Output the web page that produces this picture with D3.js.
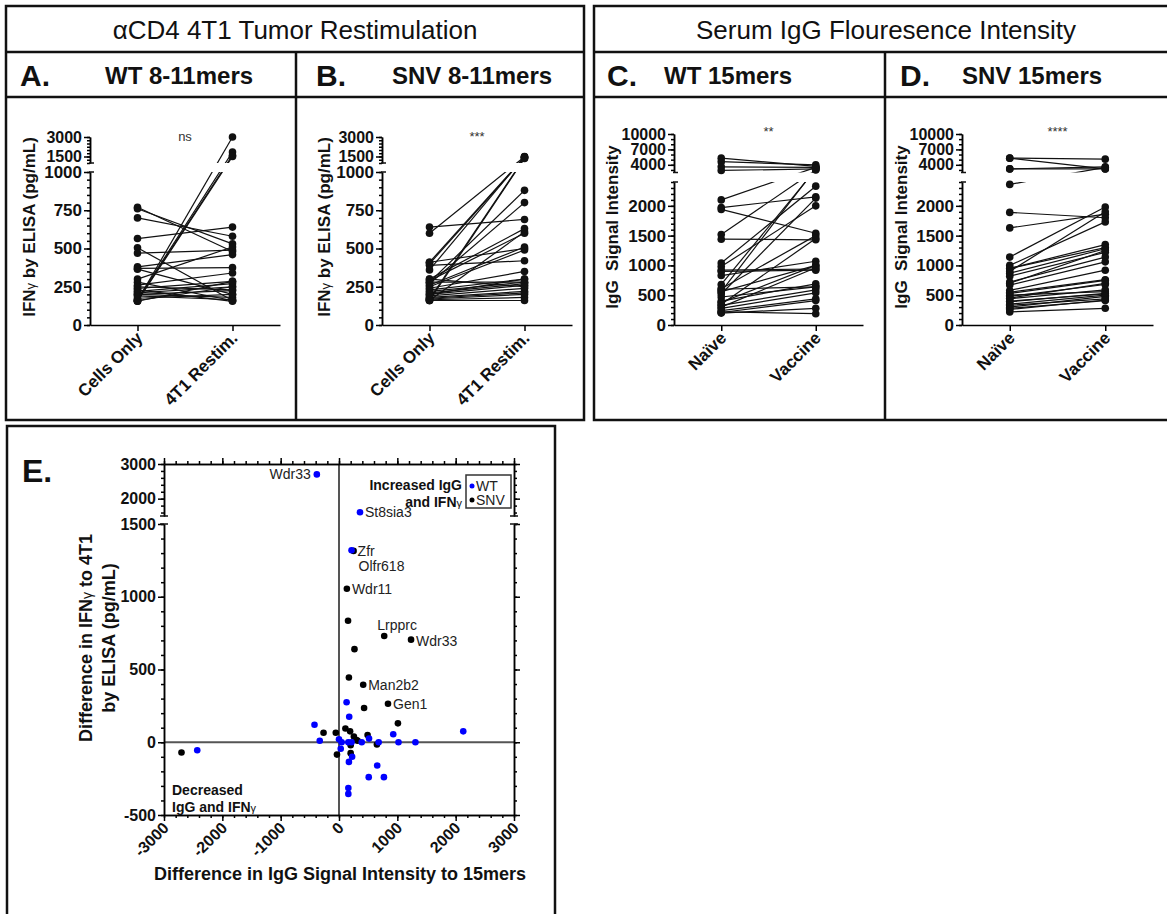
<!DOCTYPE html>
<html>
<head>
<meta charset="utf-8">
<script src="https://cdn.jsdelivr.net/npm/d3@7"></script>
<style>
  body { margin: 0; background: #fff; }
  svg { display: block; font-family: "Liberation Sans", Arial, sans-serif; }
</style>
</head>
<body>
<script>
"use strict";
// ---- data ----
// A. WT 8-11mers  (IFNg pg/mL, paired)
const restimCats = ["Cells Only", "4T1 Restim."]
const wt8Cells  = [160,165,160,155,770,760,700,565,505,470,380,370,365,300,280,260,240,220,210,200,200,190,160,175,230,250,155]
const wt8Restim = [3000,1850,1600,1500,480,530,580,640,160,490,460,375,200,510,160,340,285,270,250,225,180,165,250,200,155,230,285]
// B. SNV 8-11mers
const snv8Cells  = [640,600,410,400,390,360,300,290,280,270,260,250,240,230,220,210,200,190,180,175,170,165,160,160,170,280,300,200,160,410]
const snv8Restim = [690,1480,1450,1420,420,1500,630,600,880,800,510,490,350,300,280,270,260,240,220,210,200,180,160,610,1400,280,250,300,1350,500]
// C. WT 15mers (IgG signal intensity, paired)
const vaccCats = ["Naïve", "Vaccine"]
const wt15Naive = [5300,4600,3600,2900,2100,1970,1940,1520,1440,1040,980,920,900,830,680,610,560,520,470,400,330,280,240,210,200,220,560,380,300,350,600]
const wt15Vacc  = [3700,4000,3500,3200,3500,2150,1540,3000,1430,2330,2000,940,920,1070,3100,1500,1000,2130,640,690,590,540,440,410,280,190,3300,1000,960,1450,640]
// D. SNV 15mers
const snv15Naive = [5300,5300,3200,3200,2360,1890,1630,1140,1000,950,870,820,720,670,580,530,480,440,390,330,280,220,950,700,500,400,350,300,260,450,550,900]
const snv15Vacc  = [5100,3200,3600,3200,3500,1800,1860,1980,1730,1350,1280,1220,1140,1060,920,750,680,590,530,440,410,280,1300,1250,560,520,500,480,420,700,760,1900]
// E. difference in IgG (x) vs difference in IFNg (y)
const wtDiffIgG = [-380,360,215,130,175,-420,-330,0,45,160,215,390,515,680,930,1020,1310,2130,30,225,170,655,510,770,160,160,-2430]
const wtDiffIfn = [2700,1610,1320,275,175,120,10,20,0,0,0,0,25,0,55,0,0,75,-45,-100,-135,-160,-240,-240,-315,-355,-55]
const snvDiffIgG = [250,135,155,775,1235,265,170,415,430,840,1010,-265,-55,110,190,255,300,320,490,650,200,-35,200,-2700]
const snvDiffIfn = [1315,1055,835,730,705,640,445,395,235,265,130,65,65,95,75,40,15,10,50,-15,-20,-85,-75,-70]
const wtLabels  = [{i: 0, name: "Wdr33"}, {i: 1, name: "St8sia3"}, {i: 2, name: "Olfr618"}]
const snvLabels = [{i: 0, name: "Zfr"}, {i: 1, name: "Wdr11"}, {i: 3, name: "Lrpprc"}, {i: 4, name: "Wdr33"}, {i: 7, name: "Man2b2"}, {i: 9, name: "Gen1"}]
const eXTicks = [-3000,-2000,-1000,0,1000,2000,3000]

;(function(){
    const svg = d3.select("body").append("svg")
        .attr("width", 1167)
        .attr("height", 914)
    const FONT = '"Liberation Sans", Arial, sans-serif'
    // plain integers with an ascii hyphen for negatives
    const fmt = v => String(v)

    // ---- boxes ----
    const frame = svg.append("g").attr("fill", "none").attr("stroke", "#111").attr("stroke-width", 2.5)
    frame.append("rect").attr("x", 6).attr("y", 6).attr("width", 578).attr("height", 414)
    frame.append("line").attr("x1", 6).attr("x2", 584).attr("y1", 52).attr("y2", 52)
    frame.append("line").attr("x1", 6).attr("x2", 584).attr("y1", 97).attr("y2", 97)
    frame.append("line").attr("x1", 296).attr("x2", 296).attr("y1", 52).attr("y2", 420)
    frame.append("rect").attr("x", 594).attr("y", 6).attr("width", 620).attr("height", 414)
    frame.append("line").attr("x1", 594).attr("x2", 1167).attr("y1", 52).attr("y2", 52)
    frame.append("line").attr("x1", 594).attr("x2", 1167).attr("y1", 97).attr("y2", 97)
    frame.append("line").attr("x1", 885).attr("x2", 885).attr("y1", 52).attr("y2", 420)
    frame.append("rect").attr("x", 7).attr("y", 426).attr("width", 548).attr("height", 520)

    // ---- headers ----
    function txt(x, y, s, size, weight, anchor) {
        return svg.append("text").attr("x", x).attr("y", y)
            .attr("font-size", size).attr("font-weight", weight || "normal")
            .attr("text-anchor", anchor || "start").attr("fill", "#111").text(s)
    }
    txt(295, 39, "αCD4 4T1 Tumor Restimulation", 26, "normal", "middle")
    txt(886, 39, "Serum IgG Flouresence Intensity", 26, "normal", "middle")
    txt(20, 86, "A.", 30, "bold")
    txt(105, 84, "WT 8-11mers", 24, "bold")
    txt(316, 86, "B.", 30, "bold")
    txt(392, 84, "SNV 8-11mers", 24, "bold")
    txt(607, 86, "C.", 30, "bold")
    txt(664, 84, "WT 15mers", 24, "bold")
    txt(900, 86, "D.", 30, "bold")
    txt(962, 84, "SNV 15mers", 24, "bold")
    txt(22, 482, "E.", 32, "bold")

    function styleAxis(a, size) {
        a.attr("font-size", size).attr("font-family", FONT).attr("font-weight", "bold")
            .attr("stroke-width", 1.5)
        a.selectAll("text").attr("fill", "#111")
    }

    // ---- paired before/after panels ----
    function pairedPanel(o) {
        const g = svg.append("g")
        const x = d3.scalePoint().domain(o.cats).range([o.x0, o.x1]).padding(0.5)
        const yLo = d3.scaleLinear().domain(o.loDomain).range([325, o.loTop])
        const yHi = d3.scaleLinear().domain(o.hiDomain).range([o.hiBottom, o.hiTop])
        const yPos = v => v <= o.loDomain[1] ? yLo(v) : yHi(v)

        // y axis, lower part
        g.append("g").attr("transform", `translate(${o.x0},0)`)
            .call(d3.axisLeft(yLo).tickValues(o.loMinor).tickSize(3).tickSizeOuter(0).tickFormat(""))
            .call(a => styleAxis(a, o.tickFont))
        g.append("g").attr("transform", `translate(${o.x0},0)`)
            .call(d3.axisLeft(yLo).tickValues(o.loTicks).tickSize(6).tickSizeOuter(0).tickPadding(2).tickFormat(fmt))
            .call(a => styleAxis(a, o.tickFont))
        // y axis, upper part
        g.append("g").attr("transform", `translate(${o.x0},0)`)
            .call(d3.axisLeft(yHi).tickValues(o.hiMinor).tickSize(3).tickSizeOuter(0).tickFormat(""))
            .call(a => styleAxis(a, o.hiFont))
        g.append("g").attr("transform", `translate(${o.x0},0)`)
            .call(d3.axisLeft(yHi).tickValues(o.hiTicks).tickSize(6).tickSizeOuter(0).tickPadding(2).tickFormat(fmt))
            .call(a => styleAxis(a, o.hiFont))
        // break marks
        ;[o.loTop, o.hiBottom].forEach(yy => {
            g.append("line").attr("x1", o.x0 - 1).attr("x2", o.x0 + 4).attr("y1", yy).attr("y2", yy)
                .attr("stroke", "#111").attr("stroke-width", 1.5)
        })

        // x axis
        g.append("g").attr("transform", "translate(0,325)")
            .call(d3.axisBottom(x).tickSize(6).tickSizeOuter(0))
            .call(a => styleAxis(a, 17))
            .call(a => a.selectAll("text")
                .attr("x", -6).attr("y", 8).attr("dy", "0.35em")
                .attr("text-anchor", "end")
                .attr("transform", "rotate(-45)"))

        // y label
        const yl = g.append("text").attr("transform", `translate(${o.labelX},227) rotate(-90)`)
            .attr("text-anchor", "middle").attr("font-size", 17).attr("font-weight", "bold").attr("fill", "#111")
            .attr("xml:space", "preserve")
        o.yLabel.forEach(p => yl.append("tspan").text(p[0]).attr("font-size", p[1] || 17).attr("font-weight", p[2] || "bold"))

        // significance
        g.append("text").attr("x", (x(o.cats[0]) + x(o.cats[1])) / 2).attr("y", o.starY)
            .attr("text-anchor", "middle").attr("font-size", 13).attr("fill", "#333").text(o.star)

        // clip regions so that lines break at the axis gap
        const idLo = "clipLo" + o.id, idHi = "clipHi" + o.id
        const defs = g.append("defs")
        defs.append("clipPath").attr("id", idLo).append("rect")
            .attr("x", o.x0).attr("y", o.loTop).attr("width", o.x1 - o.x0).attr("height", 340 - o.loTop)
        defs.append("clipPath").attr("id", idHi).append("rect")
            .attr("x", o.x0).attr("y", 100).attr("width", o.x1 - o.x0).attr("height", o.hiBottom - 100)

        const pairs = o.before.map((b, i) => [b, o.after[i]])
        const cx0 = x(o.cats[0]), cx1 = x(o.cats[1])
        ;[idLo, idHi].forEach(id => {
            g.append("g").attr("clip-path", `url(#${id})`)
                .selectAll("line").data(pairs).enter().append("line")
                .attr("x1", cx0).attr("x2", cx1)
                .attr("y1", d => yPos(d[0])).attr("y2", d => yPos(d[1]))
                .attr("stroke", "#111").attr("stroke-width", 1.2)
        })
        g.append("g").selectAll("circle").data(o.before).enter().append("circle")
            .attr("cx", cx0).attr("cy", d => yPos(d)).attr("r", 3.8).attr("fill", "#111")
        g.append("g").selectAll("circle").data(o.after).enter().append("circle")
            .attr("cx", cx1).attr("cy", d => yPos(d)).attr("r", 3.8).attr("fill", "#111")
    }

    const ifnLabel = [["IFN"], ["γ", 13, "normal"], [" by ELISA (pg/mL)"]]
    const igLabel = [["IgG  Signal Intensity"]]
    const ifnAxis = {
        loDomain: [0, 1000], loTop: 172, hiDomain: [1000, 3000], hiBottom: 163, hiTop: 137,
        loTicks: [0, 250, 500, 750, 1000], loMinor: d3.range(0, 1001, 50),
        hiTicks: [1500, 3000], hiMinor: d3.range(1000, 3001, 250), starY: 141, tickFont: 17, hiFont: 16
    }
    const igAxis = {
        loDomain: [0, 2400], loTop: 182, hiDomain: [2500, 10000], hiBottom: 172.5, hiTop: 134,
        loTicks: [0, 500, 1000, 1500, 2000], loMinor: d3.range(0, 2401, 100),
        hiTicks: [4000, 7000, 10000], hiMinor: d3.range(3000, 10001, 1000), starY: 136, tickFont: 17, hiFont: 16
    }
    pairedPanel(Object.assign({id: "A", x0: 90, x1: 280, cats: restimCats, before: wt8Cells, after: wt8Restim,
        labelX: 35, yLabel: ifnLabel, star: "ns"}, ifnAxis))
    pairedPanel(Object.assign({id: "B", x0: 382, x1: 572, cats: restimCats, before: snv8Cells, after: snv8Restim,
        labelX: 330, yLabel: ifnLabel, star: "***"}, ifnAxis))
    pairedPanel(Object.assign({id: "C", x0: 674, x1: 863, cats: vaccCats, before: wt15Naive, after: wt15Vacc,
        labelX: 618, yLabel: igLabel, star: "**"}, igAxis))
    pairedPanel(Object.assign({id: "D", x0: 962, x1: 1153, cats: vaccCats, before: snv15Naive, after: snv15Vacc,
        labelX: 907, yLabel: igLabel, star: "****"}, igAxis))

    // ---- E. scatter ----
    const e = svg.append("g")
    const xE = d3.scaleLinear().domain([-3000, 3000]).range([164, 514])
    const yELo = d3.scaleLinear().domain([-500, 1500]).range([815, 524])
    const yEHi = d3.scaleLinear().domain([1500, 3000]).range([516, 464])
    const yE = v => v <= 1500 ? yELo(v) : yEHi(v)

    // reference lines at zero
    e.append("line").attr("x1", xE(-3000)).attr("x2", xE(3000)).attr("y1", yELo(0)).attr("y2", yELo(0))
        .attr("stroke", "#555").attr("stroke-width", 2)
    e.append("line").attr("x1", xE(0)).attr("x2", xE(0)).attr("y1", yEHi(3000)).attr("y2", yELo(-500))
        .attr("stroke", "#555").attr("stroke-width", 2)

    const xMinor = d3.range(-3000, 3001, 200)
    const loMinor = d3.range(-500, 1501, 100)
    const hiMinor = d3.range(1600, 3001, 200)
    // bottom axis
    e.append("g").attr("transform", `translate(0,${yELo(-500)})`)
        .call(d3.axisBottom(xE).tickValues(xMinor).tickSize(3).tickSizeOuter(0).tickFormat(""))
        .call(a => styleAxis(a, 16))
    e.append("g").attr("transform", `translate(0,${yELo(-500)})`)
        .call(d3.axisBottom(xE).tickValues(eXTicks).tickSize(6).tickSizeOuter(0).tickFormat(fmt))
        .call(a => styleAxis(a, 16))
        .call(a => a.selectAll("text")
            .attr("x", -6).attr("y", 8).attr("dy", "0.35em")
            .attr("text-anchor", "end").attr("transform", "rotate(-45)"))
    // top axis
    e.append("g").attr("transform", `translate(0,${yEHi(3000)})`)
        .call(d3.axisTop(xE).tickValues(xMinor).tickSize(3).tickSizeOuter(0).tickFormat(""))
        .call(a => styleAxis(a, 16))
    e.append("g").attr("transform", `translate(0,${yEHi(3000)})`)
        .call(d3.axisTop(xE).tickValues(eXTicks).tickSize(6).tickSizeOuter(0).tickFormat(""))
        .call(a => styleAxis(a, 16))
    // left and right axes (broken)
    ;[["L", xE(-3000)], ["R", xE(3000)]].forEach(([side, xx]) => {
        const mk = side === "L" ? d3.axisLeft : d3.axisRight
        const lab = side === "L" ? fmt : ""
        e.append("g").attr("transform", `translate(${xx},0)`)
            .call(mk(yELo).tickValues(loMinor).tickSize(3).tickSizeOuter(0).tickFormat(""))
            .call(a => styleAxis(a, 16))
        e.append("g").attr("transform", `translate(${xx},0)`)
            .call(mk(yELo).tickValues([-500, 0, 500, 1000, 1500]).tickSize(6).tickSizeOuter(0).tickPadding(2).tickFormat(lab))
            .call(a => styleAxis(a, 16))
        e.append("g").attr("transform", `translate(${xx},0)`)
            .call(mk(yEHi).tickValues(hiMinor).tickSize(3).tickSizeOuter(0).tickFormat(""))
            .call(a => styleAxis(a, 16))
        e.append("g").attr("transform", `translate(${xx},0)`)
            .call(mk(yEHi).tickValues([2000, 3000]).tickSize(6).tickSizeOuter(0).tickPadding(2).tickFormat(lab))
            .call(a => styleAxis(a, 16))
        ;[yELo(1500), yEHi(1500)].forEach(yy => {
            e.append("line").attr("x1", xx - 4).attr("x2", xx + 4).attr("y1", yy).attr("y2", yy)
                .attr("stroke", "#111").attr("stroke-width", 1.5)
        })
    })

    // axis titles
    e.append("text").attr("x", 340).attr("y", 880).attr("text-anchor", "middle")
        .attr("font-size", 18).attr("font-weight", "bold").attr("fill", "#111")
        .text("Difference in IgG Signal Intensity to 15mers")
    const t1 = e.append("text").attr("transform", "translate(92,638) rotate(-90)")
        .attr("text-anchor", "middle").attr("font-size", 18).attr("font-weight", "bold").attr("fill", "#111")
    t1.append("tspan").text("Difference in IFN")
    t1.append("tspan").text("γ").attr("font-size", 14).attr("font-weight", "normal")
    t1.append("tspan").text(" to 4T1")
    e.append("text").attr("transform", "translate(115,638) rotate(-90)")
        .attr("text-anchor", "middle").attr("font-size", 18).attr("font-weight", "bold").attr("fill", "#111")
        .text("by ELISA (pg/mL)")

    // points
    const wtPts = wtDiffIgG.map((v, i) => [v, wtDiffIfn[i]])
    const snvPts = snvDiffIgG.map((v, i) => [v, snvDiffIfn[i]])
    e.append("g").selectAll("circle").data(snvPts).enter().append("circle")
        .attr("cx", d => xE(d[0])).attr("cy", d => yE(d[1])).attr("r", 3.3).attr("fill", "#000")
    e.append("g").selectAll("circle").data(wtPts).enter().append("circle")
        .attr("cx", d => xE(d[0])).attr("cy", d => yE(d[1])).attr("r", 3.3).attr("fill", "#0000ff")

    // point labels
    const labelOffset = {
        "Wdr33": [-6, 5, "end"], "St8sia3": [5, 5, "start"], "Olfr618": [7, 21, "start"],
        "Zfr": [4, 5, "start"], "Wdr11": [5, 5, "start"], "Lrpprc": [-7, -6, "start"],
        "Man2b2": [5, 5, "start"], "Gen1": [5, 5, "start"]
    }
    function pointLabels(pts, labels, rightWdr) {
        labels.forEach(l => {
            const p = pts[l.i]
            let off = labelOffset[l.name]
            if (l.name === "Wdr33" && rightWdr) off = [5, 6, "start"]
            e.append("text").attr("x", xE(p[0]) + off[0]).attr("y", yE(p[1]) + off[1])
                .attr("text-anchor", off[2]).attr("font-size", 14).attr("fill", "#222").text(l.name)
        })
    }
    pointLabels(wtPts, wtLabels, false)
    pointLabels(snvPts, snvLabels, true)

    // legend
    e.append("rect").attr("x", 466).attr("y", 475).attr("width", 45).attr("height", 33)
        .attr("fill", "#fff").attr("stroke", "#333").attr("stroke-width", 1.5)
    e.append("circle").attr("cx", 472).attr("cy", 486).attr("r", 2.5).attr("fill", "#0000ff")
    e.append("text").attr("x", 476).attr("y", 491).attr("font-size", 14).attr("fill", "#222").text("WT")
    e.append("circle").attr("cx", 472).attr("cy", 500).attr("r", 2.5).attr("fill", "#000")
    e.append("text").attr("x", 476).attr("y", 505).attr("font-size", 14).attr("fill", "#222").text("SNV")
    e.append("text").attr("x", 462).attr("y", 490).attr("text-anchor", "end")
        .attr("font-size", 14).attr("font-weight", "bold").attr("fill", "#111").text("Increased IgG")
    const inc = e.append("text").attr("x", 462).attr("y", 507).attr("text-anchor", "end")
        .attr("font-size", 14).attr("font-weight", "bold").attr("fill", "#111")
    inc.append("tspan").text("and IFN")
    inc.append("tspan").text("γ").attr("font-size", 11).attr("font-weight", "normal")
    e.append("text").attr("x", 172).attr("y", 795)
        .attr("font-size", 14).attr("font-weight", "bold").attr("fill", "#111").text("Decreased")
    const dec = e.append("text").attr("x", 172).attr("y", 812)
        .attr("font-size", 14).attr("font-weight", "bold").attr("fill", "#111")
    dec.append("tspan").text("IgG and IFN")
    dec.append("tspan").text("γ").attr("font-size", 11).attr("font-weight", "normal")
})()
</script>
</body>
</html>
